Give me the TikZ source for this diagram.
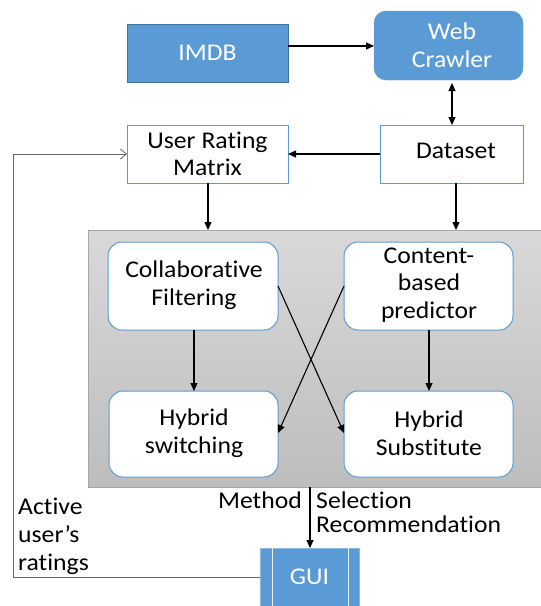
\documentclass[tikz,border=0pt]{standalone}
\usepackage{fontspec}
\setmainfont[Ligatures={NoCommon}]{Carlito}
\usetikzlibrary{arrows.meta,calc}
\definecolor{bluefill}{HTML}{5B9BD5}
\definecolor{blueedge}{HTML}{41719C}
\definecolor{panelTop}{HTML}{D9D9D9}
\definecolor{panelBot}{HTML}{BDBDBD}
\begin{document}
\begin{tikzpicture}[x=1pt,y=-1pt,
  lbl/.style={font=\fontsize{24}{27.5}\selectfont, align=center, inner sep=0pt, xscale=1.07, transform shape},
  bluebox/.style={draw=blueedge, line width=1pt, fill=bluefill, text=white},
  whitebox/.style={draw=bluefill, line width=1pt, fill=white},
  roundbox/.style={draw=bluefill, line width=1pt, fill=white, rounded corners=14pt},
  tip/.style={},
  arr/.style={-{Triangle[length=8pt,width=7pt]}, line width=1.1pt, black},
  fb/.style={draw=gray!80!black, line width=0.8pt}
]
\useasboundingbox (0,0) rectangle (541,606);
% gray panel
\shade[top color=panelTop, bottom color=panelBot, draw=gray!70] (88,230) rectangle (545,487);
% boxes
\draw[bluebox] (127,24) rectangle (288,82);
\node[lbl, text=white] (imdb) at (207.5,53) {IMDB};
\coordinate (imdbR) at (288,46);
\draw[fill=bluefill, draw=bluefill, rounded corners=12pt] (374,11) rectangle (523,80);
\node[lbl, text=white] (web) at (452,45.5) {Web\\Crawler};
\coordinate (webL) at (374,46);
\coordinate (webB) at (452,80);
\draw[whitebox] (127,125) rectangle (288,183);
\node[lbl] (urm) at (207.5,154) {User Rating\\Matrix};
\draw[whitebox] (380,125) rectangle (523,183);
\node[lbl] (ds) at (456,151) {Dataset};
\coordinate (dsT) at (452,125);
\coordinate (dsL) at (380,154);
\coordinate (urmR) at (288,154);
\coordinate (urmL) at (127,154);
\coordinate (urmB) at (208,183);
\coordinate (dsB) at (456,183);
\coordinate (panelT1) at (208,230);
\coordinate (panelT2) at (456,230);
% inner rounded boxes
\draw[roundbox] (108,242) rectangle (278,330);
\node[lbl] (cf) at (194,285) {Collaborative\\Filtering};
\draw[roundbox] (344,242) rectangle (513,330);
\node[lbl] (cb) at (429,285) {Content-\\based\\predictor};
\draw[roundbox] (109,391) rectangle (278,477);
\node[lbl] (hs) at (194,433) {Hybrid\\switching};
\draw[roundbox] (344,391) rectangle (513,477);
\node[lbl] (hsub) at (429,433) {Hybrid\\Substitute};
% GUI
\draw[fill=bluefill, draw=bluefill!70!white, line width=0.8pt] (260,548) rectangle (359,615);
\draw[white!85!bluefill, line width=0.8pt] (272,548) -- (272,615) (348,548) -- (348,615);
\node[lbl, text=white] (gui) at (309.5,577) {GUI};
\coordinate (guiT) at (310,548);
\coordinate (guiL) at (260,577);
\coordinate (panelB) at (310,487);
% arrows
\draw[arr] (imdbR) -- (webL);
\draw[{Triangle[length=8pt,width=7pt]}-{Triangle[length=8pt,width=7pt]}, line width=1.1pt] ($(webB)+(0,3)$) -- (dsT);
\draw[arr] (dsL) -- (urmR);
\draw[arr] (urmB) -- (panelT1);
\draw[arr] (dsB) -- (panelT2);
\draw[arr] (194,330) -- (194,391);
\draw[arr] (429,330) -- (429,391);
\draw[arr] (278,286) -- (344,433);
\draw[arr] (344,286) -- (278,433);
\draw[arr] (panelB) -- (guiT);
% feedback
\coordinate (fbc1) at (13,577);
\coordinate (fbc2) at (13,154);
\draw[fb, -{Straight Barb[length=6pt,width=10pt]}] (guiL) -- (fbc1) -- (fbc2) -- (urmL);
% labels
\node[lbl, anchor=base east] (meth) at (302,508) {Method};
\node[lbl, anchor=base west] (sel) at (316,508) {Selection};
\node[lbl, anchor=base west] (rec) at (316,532) {Recommendation};
\node[lbl, anchor=base west] (act) at (18,514) {Active};
\node[lbl, anchor=base west] (usr) at (18,542) {user’s};
\node[lbl, anchor=base west] (rat) at (18,570) {ratings};
\end{tikzpicture}
\end{document}
